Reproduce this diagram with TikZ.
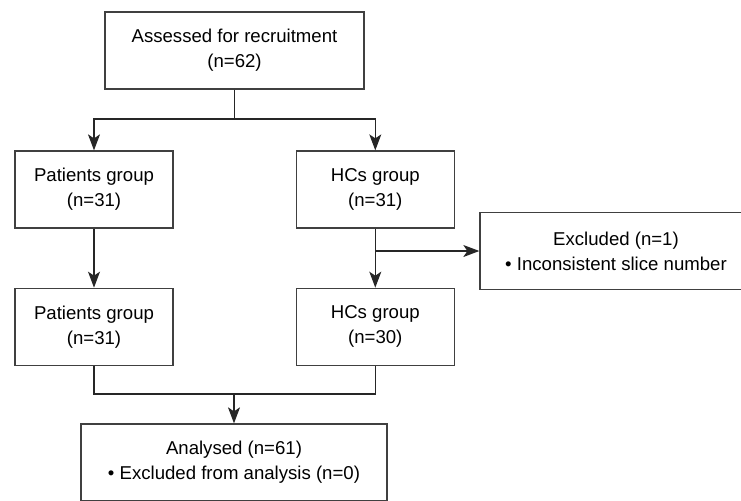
\documentclass[tikz,border=0pt]{standalone}
\usepackage{fontspec}
\setmainfont{Liberation Sans}
\usetikzlibrary{arrows.meta,positioning}
\tikzset{
  box/.style={draw=black!75,fill=white,line width=0.65pt,align=center,minimum height=38.5pt,inner sep=0pt,font=\fontsize{9.3}{12.5}\selectfont},
  boxs/.style={box,minimum width=79pt},
  arr/.style={-{Stealth[length=8pt,width=6pt,inset=2pt]},line width=0.6pt,color=black!85},
  ln/.style={line width=0.6pt,color=black!85},
}

\begin{document}
\begin{tikzpicture}[x=0.5pt,y=-0.5pt]
\useasboundingbox (0,0) rectangle (741,500);
\node[box,minimum width=129.5pt] (assess) at (234.5,50.5) {Assessed for recruitment\\(n=62)};
\node[boxs] (pat1) at (94,189.5) {Patients group\\(n=31)};
\node[boxs,right=61pt of pat1] (hc1) {HCs group\\(n=31)};
\node[boxs,below=29.5pt of pat1] (pat2) {Patients group\\(n=31)};
\node[boxs,below=29.5pt of hc1] (hc2) {HCs group\\(n=30)};
\node[box,minimum width=136pt] (excl) at (616,251) {Excluded (n=1)\\• Inconsistent slice number};
\node[box,minimum width=153pt] (anal) at (234,462.5) {Analysed (n=61)\\• Excluded from analysis (n=0)};
\coordinate (split) at (assess.south |- 0,119);
\coordinate (branch) at (hc1.south |- excl.west);
\coordinate (merge) at (anal.north |- 0,394);
\draw[ln](assess)--(split);
\draw[arr](split)-|(pat1);\draw[arr](split)-|(hc1);
\draw[arr](pat1)--(pat2);\draw[arr](hc1)--(hc2);
\draw[arr](branch)--(excl);
\draw[ln](pat2)|-(merge)-|(hc2);
\draw[arr](merge)--(anal);
\end{tikzpicture}
\end{document}
